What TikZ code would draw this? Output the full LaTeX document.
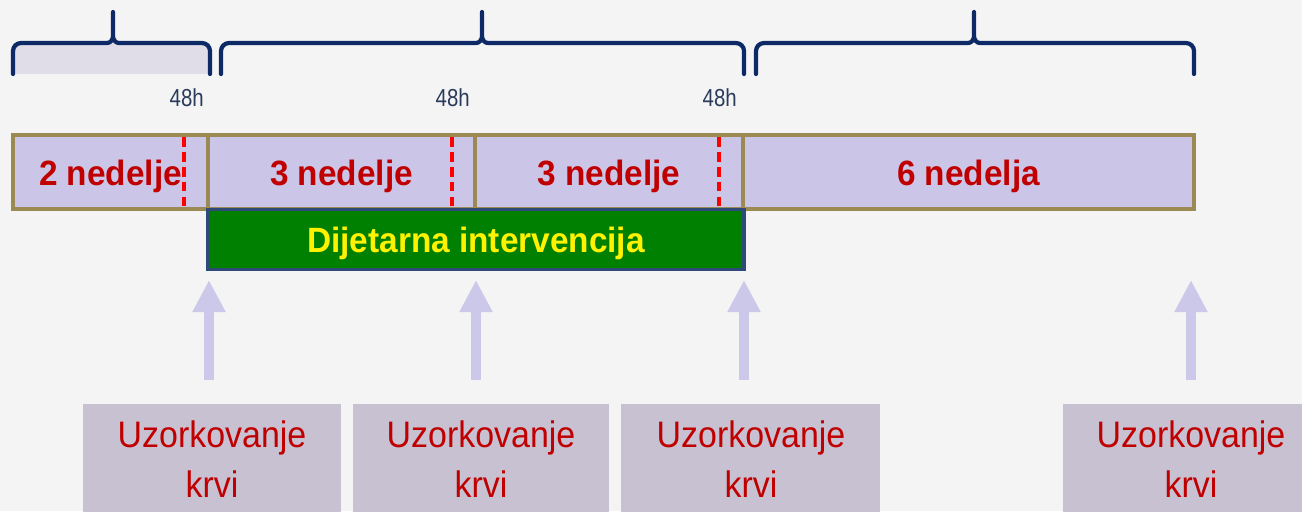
\documentclass[tikz,border=0pt]{standalone}
\usepackage{fontspec}
\setmainfont{Liberation Sans}
\newfontfamily\labelfont[FakeStretch=0.95]{Liberation Sans}
\newfontfamily\samplefont[FakeStretch=0.92]{Liberation Sans}
\newfontfamily\hourfont[FakeStretch=0.83]{Liberation Sans}
\usetikzlibrary{arrows.meta}

\definecolor{pagebg}{HTML}{F4F4F4}
\definecolor{barlav}{HTML}{CBC6E7}
\definecolor{barrim}{HTML}{9C8A55}
\definecolor{darkred}{HTML}{C00000}
\definecolor{cutred}{HTML}{FF0000}
\definecolor{dietgreen}{HTML}{008000}
\definecolor{dietrim}{HTML}{2F4A78}
\definecolor{arrowlav}{HTML}{CCC8EA}
\definecolor{samplebg}{HTML}{C8C1D2}
\definecolor{bracenavy}{HTML}{0E2A66}
\definecolor{bracefill}{HTML}{E1DDE8}
\definecolor{hourgrey}{HTML}{2B3B5B}

\tikzset{
  segbox/.style={fill=barlav, draw=barrim, line width=2.2pt},
  segtext/.style={font=\labelfont\bfseries\fontsize{20}{24}\selectfont, text=darkred, anchor=base},
  cutline/.style={draw=cutred, line width=2pt, dash pattern=on 5.5pt off 3pt},
  dietbox/.style={fill=dietgreen, draw=dietrim, line width=2.2pt, minimum width=10.72cm,
    minimum height=1.2cm, text depth=0pt, text=yellow,
    font=\labelfont\bfseries\fontsize{20}{24}\selectfont},
  uparrow/.style={draw=arrowlav, line width=0.19cm, -{Triangle[width=0.62cm,length=0.64cm]}},
  sampletext/.style={font=\samplefont\fontsize{21}{27.9}\selectfont, text=darkred,
    align=center, anchor=base},
  hourtext/.style={font=\hourfont\fontsize{14}{15}\selectfont, text=hourgrey, anchor=base east},
  bracket/.style={draw=bracenavy, line width=2.4pt, line join=round, line cap=round}
}

% brace over a period: left end, tip, right end
\newcommand{\periodbrace}[3]{%
  \draw[bracket] (#1,74) -- (#1,51) to[out=90,in=180] (#1+8,43) -- (#2-6,43)
    to[out=0,in=-90] (#2,36) -- (#2,12) -- (#2,36) to[out=-90,in=180] (#2+6,43)
    -- (#3-8,43) to[out=0,in=90] (#3,51) -- (#3,74);}

\begin{document}
\begin{tikzpicture}[x=0.02cm, y=-0.02cm]
\useasboundingbox (0,0) rectangle (1302,511);
\fill[pagebg] (0,0) rectangle (1302,511);

% braces
\fill[bracefill] (13,43) rectangle (210,74);
\periodbrace{13}{113}{210}
\periodbrace{221}{482}{744}
\periodbrace{756}{974}{1194}

\node[hourtext] (h1) at (210,106) {48h};
\node[hourtext] (h2) at (476,106) {48h};
\node[hourtext] (h3) at (743,106) {48h};

% timeline
\foreach \xa/\xb/\nm/\txt in {13/208/s1/2 nedelje, 208/475/s2/3 nedelje,
    475/743/s3/3 nedelje, 743/1194/s4/6 nedelja}{
  \draw[segbox] (\xa,135) rectangle (\xb,209);
  \node[segtext] (\nm) at ({(\xa+\xb)/2},185) {\txt};
}
\foreach \x in {184,452,719}
  \draw[cutline] (\x,137) -- (\x,207);

\node[dietbox] (diet) at (476,239.5) {Dijetarna intervencija};

% sampling
\begin{scope}
\clip (0,0) rectangle (1302,511);
\foreach \xa/\xb in {83/341, 353/609, 621/880, 1063/1320}
  \fill[samplebg] (\xa,404) rectangle (\xb,540);
\end{scope}
\node[sampletext] (u1) at (212,497) {Uzorkovanje\\krvi};
\node[sampletext] (u2) at (481,497) {Uzorkovanje\\krvi};
\node[sampletext] (u3) at (751,497) {Uzorkovanje\\krvi};
\node[sampletext] (u4) at (1191,497) {Uzorkovanje\\krvi};

\foreach \x [count=\i] in {209,476,744,1191}{
  \coordinate (b\i) at (\x,380);
  \coordinate (t\i) at (\x,280);
  \draw[uparrow] (b\i) -- (t\i);
}
\end{tikzpicture}
\end{document}
